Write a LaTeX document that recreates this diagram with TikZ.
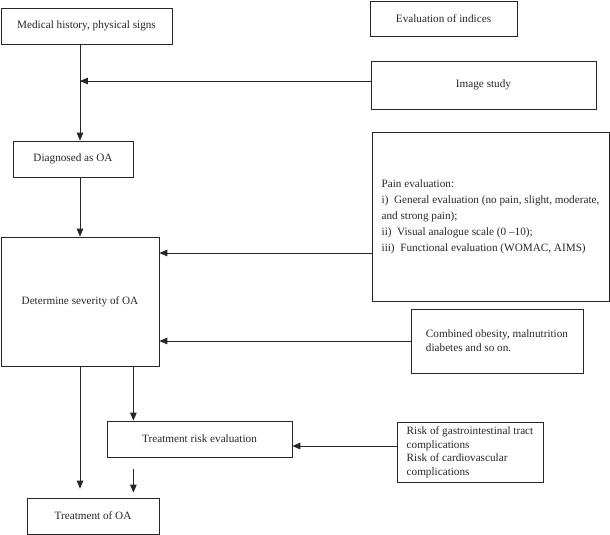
\documentclass[tikz,border=0pt]{standalone}
\usepackage{fontspec}
\setmainfont{Liberation Serif}
\usepackage{tikz}
\usetikzlibrary{arrows}
\usetikzlibrary{calc}
\usetikzlibrary{positioning}

\tikzset{
  box/.style={draw,rectangle,inner sep=0pt,align=left,font=\fontsize{11.2}{14}\selectfont},
}

\begin{document}
\begin{tikzpicture}[x=1pt,y=-1pt,>=triangle 45,line width=0.8pt,color=black!85]

  \useasboundingbox (0,0) rectangle (610,535);

  \node [box,minimum width=171pt,minimum height=36pt] (hist) at (86.5,26) {Medical history, physical signs};
  \node [box,minimum width=147pt,minimum height=35pt] (indices) at (443.5,18.5) {Evaluation of indices};
  \node [box,minimum width=225pt,minimum height=48pt] (image) at (483.5,85) {Image study};
  \node [box,minimum width=120pt,minimum height=36pt] (diag) at (73,159) {Diagnosed as OA};
  \node [box,minimum width=237pt,minimum height=169pt,font=\fontsize{11.2}{16}\selectfont] (pain) at (490.5,216.5) {Pain evaluation:\\
    i)\enspace General evaluation (no pain, slight, moderate,\\
    and strong pain);\\
    ii)\enspace Visual analogue scale (0~--10);\\
    iii)\enspace Functional evaluation (WOMAC, AIMS)};
  \node [box,minimum width=158pt,minimum height=129pt] (sev) at (80,301.5) {Determine severity of OA};
  \node [box,minimum width=172pt,minimum height=64pt] (comb) at (497,341) {Combined obesity, malnutrition\\diabetes and so on.};
  \node [box,minimum width=185pt,minimum height=36pt] (trisk) at (199.5,439) {Treatment risk evaluation};
  \node [box,minimum width=146pt,minimum height=60pt,font=\fontsize{11.2}{13.5}\selectfont] (gi) at (470,452) {Risk of gastrointestinal tract\\complications\\Risk of cardiovascular\\complications};
  \node [box,minimum width=132pt,minimum height=36pt] (treat) at (93,516) {Treatment of OA};

  \draw [->] (hist.south -| sev.north) -- (diag.north -| sev.north);
  \draw [->] (diag.south -| sev.north) -- (sev.north);
  \draw [->] ([yshift=4pt]image.west) -- ([yshift=4pt]image.west -| sev.north);
  \draw [->] ([yshift=-36.5pt]pain.west) -- ([yshift=-36.5pt]pain.west -| sev.east);
  \draw [->] (comb.west) -- (comb.west -| sev.east);
  \draw [->] ([yshift=6pt]gi.west) -- ([yshift=6pt]gi.west -| trisk.east);
  \draw [->] (sev.south -| diag.east) -- (trisk.north -| diag.east);
  \draw [->,shorten >=9pt] (sev.south) -- (treat.north -| sev.south);
  \draw [->,shorten <=12pt,shorten >=5pt] (trisk.south -| diag.east) -- (treat.north -| diag.east);

\end{tikzpicture}
\end{document}
